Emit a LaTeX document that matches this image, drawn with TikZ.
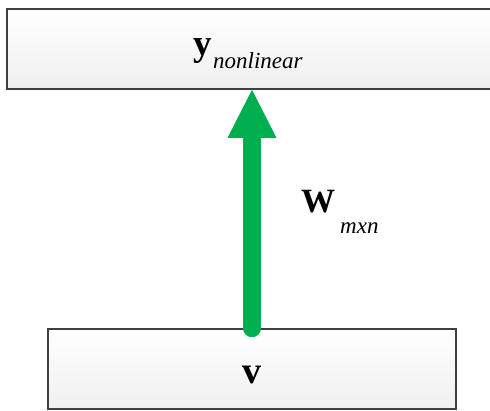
\documentclass[tikz,border=0pt]{standalone}
\usepackage{fontspec}
\setmainfont{Liberation Serif}
\usetikzlibrary{calc}
\definecolor{arrowgreen}{HTML}{00B050}
\definecolor{edgegray}{HTML}{404040}
\tikzset{
  x=1pt, y=-1pt,
  layerbox/.style={draw=edgegray, line width=1.6pt, top color=white, bottom color=black!6,
    minimum width=#1, minimum height=80pt, inner sep=0pt},
  bigbold/.style={font=\fontsize{#1}{#1}\selectfont\bfseries, inner sep=0pt},
  subit/.style={font=\fontsize{23}{23}\selectfont\itshape, inner sep=0pt},
  shaft/.style={draw=arrowgreen, line width=18pt, line cap=round},
  head/.style={fill=arrowgreen}
}
\begin{document}
\begin{tikzpicture}
\useasboundingbox (0,0) rectangle (490,410);
\clip (0,0) rectangle (490,410);
\node[layerbox=490pt] (top) at (252,49) {};
\node[layerbox=408pt] (bot) at (252,369) {};
% labels
\node[bigbold=37, anchor=base west] (ylab) at ($(top.center)+(-59,6)$) {y};
\node[subit, anchor=base west] (ysub) at ($(top.center)+(-39,19)$) {nonlinear};
\node[bigbold=38, anchor=base] (vlab) at ($(bot.center)+(0,14)$) {v};
\node[bigbold=34, anchor=base west] (wlab) at (301,212) {W};
\node[subit, anchor=base west] (wsub) at (340,233) {mxn};
% arrow
\draw[shaft] (bot.north) -- ($(top.south)+(0,47)$);
\fill[head] (top.south) -- ($(top.south)+(-24.5,48)$) -- ($(top.south)+(24.5,48)$) -- cycle;
\end{tikzpicture}
\end{document}
